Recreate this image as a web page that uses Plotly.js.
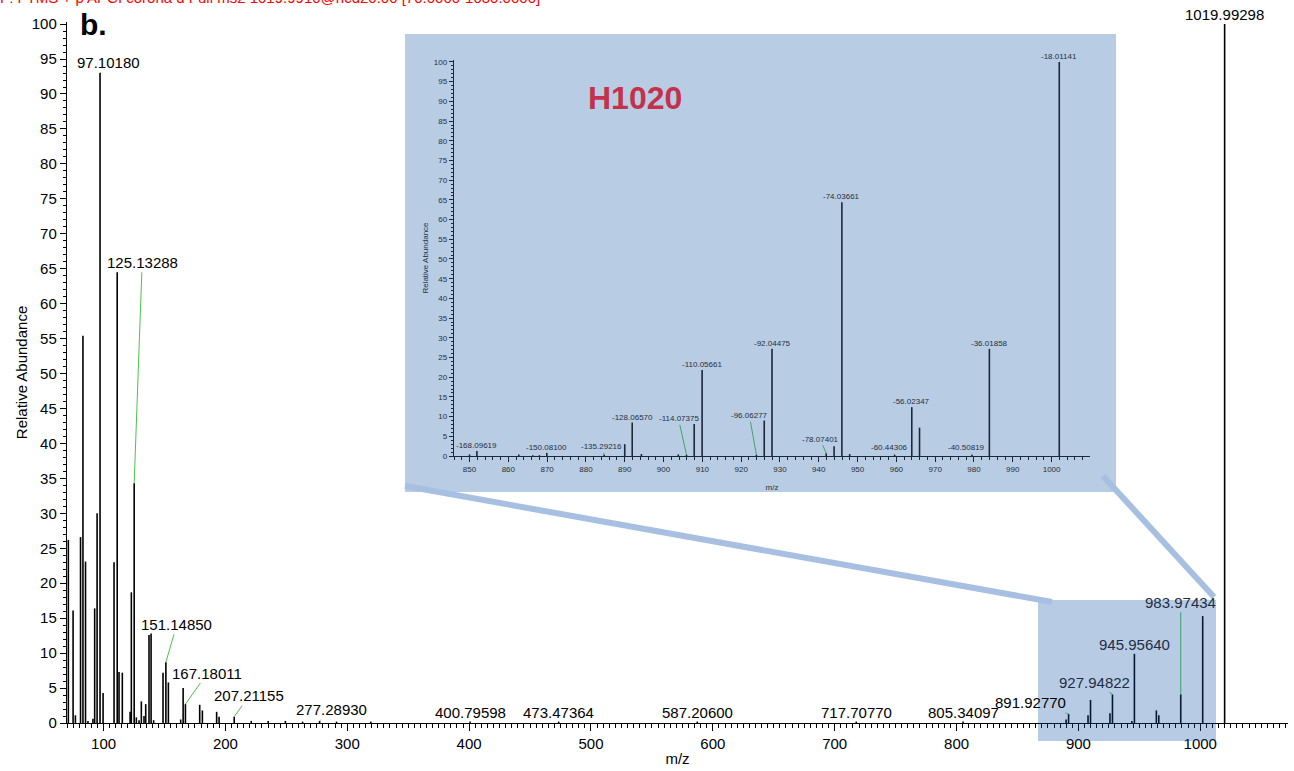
<!DOCTYPE html>
<html>
<head>
<meta charset="utf-8">
<script src="https://cdn.plot.ly/plotly-3.0.1.min.js"></script>
<style>html,body{margin:0;padding:0;background:#fff;}#chart{width:1294px;height:771px;}</style>
</head>
<body>
<div id="chart"></div>
<script>
// ---------- DATA ----------
// Main MS2 spectrum: m/z and relative abundance (%)
var main_mz = [71.09, 75.0, 76.9, 81.1, 83.1, 85.2, 87.2, 91.3, 92.7, 94.7, 97.1018, 99.6,
  108.6, 111.2, 112.7, 115.4, 121.8, 122.8, 125.13288, 126.9, 129.1, 131.0, 133.2, 134.6,
  137.3, 139.0, 141.1, 148.8, 151.1485, 153.2, 163.3, 165.3, 167.18011, 178.9, 181.1,
  192.8, 194.8, 207.21155, 221.2, 235.1, 249.2, 263.3, 277.2893, 291.2, 319.3,
  400.79598, 473.47364, 587.206, 717.7077, 805.34097, 889.9, 891.9277, 907.9, 909.94,
  925.9, 927.94822, 943.9, 945.9564, 963.97, 965.97, 983.97434, 1001.98, 1019.99298];
var main_ab = [26.2, 16.1, 1.1, 26.6, 55.4, 23.1, 0.3, 0.6, 16.4, 30.0, 93.0, 4.3,
  23.0, 64.5, 7.3, 7.2, 1.6, 18.7, 34.3, 0.8, 0.4, 3.1, 1.0, 2.7,
  12.6, 12.8, 0.4, 7.2, 8.7, 5.8, 0.5, 5.0, 2.7, 2.6, 1.8,
  1.6, 0.9, 0.9, 0.3, 0.3, 0.3, 0.2, 0.3, 0.2, 0.2,
  0.2, 0.2, 0.2, 0.2, 0.2, 0.5, 1.3, 1.1, 3.3,
  1.4, 4.1, 0.3, 9.9, 1.8, 1.1, 4.1, 15.3, 100.0];
// Labelled peaks in the main spectrum
var main_labels = [97.1018, 125.13288, 151.1485, 167.18011, 207.21155, 277.2893, 400.79598,
  473.47364, 587.206, 717.7077, 805.34097, 891.9277, 927.94822, 945.9564, 983.97434, 1019.99298];

// Inset (zoom 846-1010, rescaled to the 1001.98 peak)
var inset_mz = [850.0, 851.9, 862.7, 866.3, 868.0, 869.91, 884.7, 890.0, 891.93, 894.3, 903.8,
  905.92, 907.9, 909.94, 923.93, 925.95, 927.95, 941.92, 943.95, 945.96, 947.97, 959.55,
  963.97, 965.97, 979.49, 983.97, 1001.98];
var inset_ab = [0.4, 1.3, 0.4, 0.2, 0.2, 0.8, 0.3, 3.0, 8.5, 0.5, 0.4,
  0.3, 8.1, 21.8, 0.3, 9.0, 27.2, 0.7, 2.5, 64.4, 0.5, 0.3,
  12.4, 7.2, 0.3, 27.2, 100.0];
var inset_label_mz = [851.9, 869.91, 884.7, 891.93, 905.92, 909.94, 923.93, 927.95, 941.92,
  945.96, 959.55, 963.97, 979.49, 983.97, 1001.98];
var inset_label_text = ["-168.09619", "-150.08100", "-135.29216", "-128.06570", "-114.07375",
  "-110.05661", "-96.06277", "-92.04475", "-78.07401", "-74.03661", "-60.44306", "-56.02347",
  "-40.50819", "-36.01858", "-18.01141"];

var header_text = "F: FTMS + p APCI corona d Full ms2 1019.9910@hcd20.00 [70.0000-1030.0000]";
var panel_letter = "b.";
var inset_title = "H1020";

// ---------- STYLE ----------
var FONT = "Liberation Sans, Arial, Helvetica, sans-serif";
var W = 1294, H = 771, ML = 67, MR = 6, MT = 22, MB = 48;
var PW = W - ML - MR, PH = H - MT - MB;
function px(x) { return (x - ML) / PW; }
function py(y) { return (H - MB - y) / PH; }
var NAVY = '#1e2c44';

// label offsets (pixels) for main labels: [ax, ay] or null = straight above without leader
var mainLabelStyle = {
  "97.10180": [8, -11], "125.13288": [8, -221], "151.14850": [11, -38], "167.18011": [22, -31],
  "207.21155": [15, -21], "277.28930": [12, -11], "891.92770": [-38, -11], "927.94822": [-18, -12],
  "983.97434": [0, -92]
};
var inRect = {"927.94822": 1, "945.95640": 1, "983.97434": 1};
var insetLabelStyle = {
  "-135.29216": [-3, -8], "-114.07375": [-8, -36], "-96.06277": [-7, -39],
  "-78.07401": [-6, -14], "-60.44306": [-5, -7], "-40.50819": [-6, -7]
};

function sticks(xs, ys) {
  var X = [], Y = [];
  for (var i = 0; i < xs.length; i++) { X.push(xs[i], xs[i], null); Y.push(0, ys[i], null); }
  return {x: X, y: Y};
}
function lookup(xs, ys, v) {
  var best = 0;
  for (var i = 0; i < xs.length; i++) if (Math.abs(xs[i] - v) < Math.abs(xs[best] - v)) best = i;
  return ys[best];
}

var m = sticks(main_mz, main_ab);
var s = sticks(inset_mz, inset_ab);
var traces = [
  {x: m.x, y: m.y, type: 'scatter', mode: 'lines', line: {color: '#000', width: 1.6},
   hoverinfo: 'skip', showlegend: false, cliponaxis: true},
  {x: s.x, y: s.y, type: 'scatter', mode: 'lines', xaxis: 'x2', yaxis: 'y2',
   line: {color: '#1b2838', width: 1.6}, hoverinfo: 'skip', showlegend: false}
];

var ann = [];
main_labels.forEach(function (v) {
  var t = v.toFixed(5);
  var st = mainLabelStyle[t];
  var col = inRect[t] ? NAVY : '#000';
  var a = {x: v, y: lookup(main_mz, main_ab, v), xref: 'x', yref: 'y', text: t,
    font: {family: FONT, size: 15, color: col}};
  if (st) {
    a.showarrow = true; a.arrowhead = 0; a.arrowwidth = 1;
    a.arrowcolor = inRect[t] ? '#3aa267' : '#4cc44c';
    a.ax = st[0]; a.ay = st[1]; a.standoff = 0; a.startstandoff = 0;
  } else {
    a.showarrow = false; a.yanchor = 'bottom'; a.xanchor = 'center'; a.yshift = -1;
  }
  ann.push(a);
});
inset_label_mz.forEach(function (v, i) {
  var t = inset_label_text[i];
  var st = insetLabelStyle[t];
  var a = {x: v, y: lookup(inset_mz, inset_ab, v), xref: 'x2', yref: 'y2', text: t,
    font: {family: FONT, size: 8, color: '#26303c'}};
  if (st) {
    a.showarrow = true; a.arrowhead = 0; a.arrowwidth = 1; a.arrowcolor = '#45a36a';
    a.ax = st[0]; a.ay = st[1]; a.standoff = 0;
  } else {
    a.showarrow = false; a.yanchor = 'bottom'; a.xanchor = 'center'; a.yshift = -1;
  }
  ann.push(a);
});
ann.push({xref: 'paper', yref: 'paper', x: px(93), y: py(25), text: '<b>' + panel_letter + '</b>',
  showarrow: false, font: {family: FONT, size: 30, color: '#000'}, xanchor: 'center', yanchor: 'middle'});
ann.push({xref: 'paper', yref: 'paper', x: px(-2), y: py(8), text: header_text, showarrow: false,
  xanchor: 'left', yanchor: 'bottom', font: {family: FONT, size: 15, color: '#ff0000'}});
ann.push({xref: 'paper', yref: 'paper', x: px(635), y: py(98), text: '<b>' + inset_title + '</b>',
  showarrow: false, xanchor: 'center', yanchor: 'middle', font: {family: FONT, size: 32, color: '#c4314b'}});

var shapes = [
  {type: 'rect', xref: 'paper', yref: 'paper', x0: px(405), x1: px(1116), y0: py(492), y1: py(34),
   fillcolor: '#b8cce4', line: {width: 0}, layer: 'below'},
  {type: 'rect', xref: 'paper', yref: 'paper', x0: px(1038), x1: px(1216), y0: py(741), y1: py(600),
   fillcolor: 'rgba(18,85,165,0.3)', line: {width: 0}, layer: 'above'},
  {type: 'line', xref: 'paper', yref: 'paper', x0: px(405), y0: py(486), x1: px(1052), y1: py(602),
   line: {color: '#a7bfe0', width: 6}, layer: 'above'},
  {type: 'line', xref: 'paper', yref: 'paper', x0: px(1103), y0: py(476), x1: px(1214), y1: py(597),
   line: {color: '#a7bfe0', width: 6}, layer: 'above'}
];

var layout = {
  width: W, height: H,
  margin: {l: ML, r: MR, t: MT, b: MB, pad: 0},
  paper_bgcolor: '#ffffff', plot_bgcolor: 'rgba(0,0,0,0)',
  font: {family: FONT, color: '#000'},
  showlegend: false,
  xaxis: {range: [70, 1072], domain: [0, 1], anchor: 'y', showline: true, linecolor: '#000', linewidth: 1.2,
    ticks: 'outside', ticklen: 7, tickwidth: 1, tickcolor: '#000', tick0: 0, dtick: 100,
    minor: {dtick: 5, ticklen: 3.5, tickwidth: 1, tickcolor: '#000', ticks: 'outside'},
    showgrid: false, zeroline: false, tickfont: {family: FONT, size: 15, color: '#000'},
    title: {text: 'm/z', font: {family: FONT, size: 15, color: '#000'}, standoff: 2}},
  yaxis: {range: [0, 100.3], domain: [0, 1], anchor: 'x', showline: true, linecolor: '#000', linewidth: 1.2,
    ticks: 'outside', ticklen: 6, tickwidth: 1, tickcolor: '#000', tick0: 0, dtick: 5,
    minor: {dtick: 1, ticklen: 3, tickwidth: 1, tickcolor: '#000', ticks: 'outside'},
    showgrid: false, zeroline: false, tickfont: {family: FONT, size: 15, color: '#000'},
    title: {text: 'Relative Abundance', font: {family: FONT, size: 15, color: '#000'}}},
  xaxis2: {range: [846, 1009.9], domain: [px(454), px(1090)], anchor: 'y2', showline: true,
    linecolor: '#1b2838', linewidth: 1.2, ticks: 'outside', ticklen: 5, tickwidth: 1, tickcolor: '#1b2838',
    tick0: 0, dtick: 10, minor: {dtick: 2, ticklen: 3, tickwidth: 1, tickcolor: '#1b2838', ticks: 'outside'},
    showgrid: false, zeroline: false, tickfont: {family: FONT, size: 8, color: '#26303c'},
    title: {text: 'm/z', font: {family: FONT, size: 8, color: '#26303c'}}},
  yaxis2: {range: [0, 100.5], domain: [py(456), py(60)], anchor: 'x2', showline: true,
    linecolor: '#1b2838', linewidth: 1.2, ticks: 'outside', ticklen: 4, tickwidth: 1, tickcolor: '#1b2838',
    tick0: 0, dtick: 5, minor: {dtick: 1, ticklen: 2, tickwidth: 1, tickcolor: '#1b2838', ticks: 'outside'},
    showgrid: false, zeroline: false, tickfont: {family: FONT, size: 8, color: '#26303c'},
    title: {text: 'Relative Abundance', font: {family: FONT, size: 8, color: '#26303c'}}},
  shapes: shapes,
  annotations: ann
};

Plotly.newPlot('chart', traces, layout, {displayModeBar: false, staticPlot: true});
</script>
</body>
</html>
